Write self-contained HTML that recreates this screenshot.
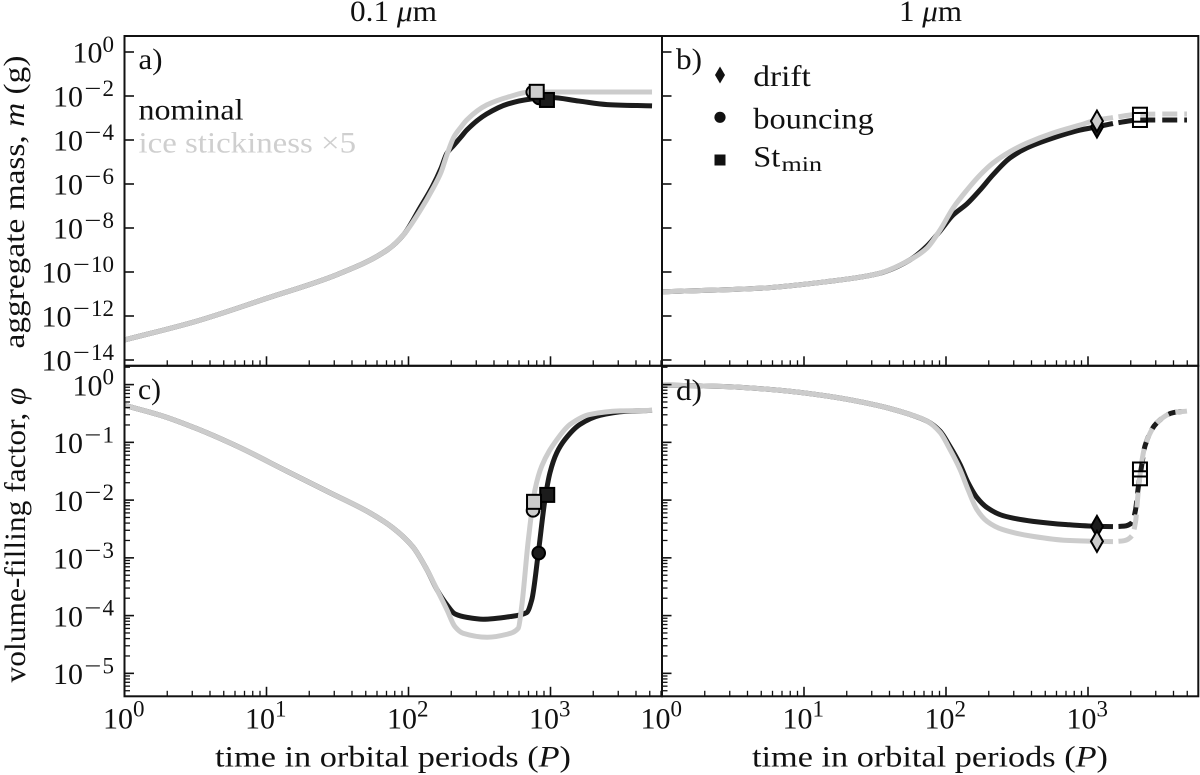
<!DOCTYPE html>
<html lang="en">
<head>
<meta charset="utf-8">
<title>Aggregate mass and volume-filling factor</title>
<style>
html,body{margin:0;padding:0;background:#fff;width:1200px;height:775px;overflow:hidden}
svg{display:block}
text{font-family:"Liberation Serif",serif;font-size:30px;fill:#111}
</style>
</head>
<body>
<svg id="chart" xmlns="http://www.w3.org/2000/svg" width="1200" height="775" viewBox="0 0 1200 775">
<rect x="0" y="0" width="1200" height="775" fill="#fff"/>
<g id="series-layer"></g>
<g id="axis-layer"></g>

<text x="350" y="21" textLength="87" lengthAdjust="spacingAndGlyphs">0.1 <tspan font-style="italic">μ</tspan>m</text>
<text x="899" y="21" textLength="63" lengthAdjust="spacingAndGlyphs">1 <tspan font-style="italic">μ</tspan>m</text>

<text x="24" y="202" text-anchor="middle" transform="rotate(-90 24 202)" textLength="293" lengthAdjust="spacingAndGlyphs">aggregate mass, <tspan font-style="italic">m</tspan> (g)</text>
<text x="25" y="535" text-anchor="middle" transform="rotate(-90 25 535)" textLength="295" lengthAdjust="spacingAndGlyphs">volume-filling factor, <tspan font-style="italic">φ</tspan></text>
<text x="393" y="766.5" text-anchor="middle" textLength="356" lengthAdjust="spacingAndGlyphs">time in orbital periods (<tspan font-style="italic">P</tspan>)</text>
<text x="930" y="766.5" text-anchor="middle" textLength="356" lengthAdjust="spacingAndGlyphs">time in orbital periods (<tspan font-style="italic">P</tspan>)</text>

<text x="138.5" y="69" textLength="24" lengthAdjust="spacingAndGlyphs">a)</text>
<text x="676" y="69" textLength="26" lengthAdjust="spacingAndGlyphs">b)</text>
<text x="138" y="399" textLength="23" lengthAdjust="spacingAndGlyphs">c)</text>
<text x="676" y="400" textLength="26" lengthAdjust="spacingAndGlyphs">d)</text>

<text x="138.5" y="119.3" textLength="105" lengthAdjust="spacingAndGlyphs">nominal</text>
<text x="138.5" y="152.7" textLength="217.5" lengthAdjust="spacingAndGlyphs" style="fill:#cfcfcf">ice stickiness ×5</text>

<g>
<polygon points="720,66.5 725,75 720,83.5 715,75" fill="#111"/>
<circle cx="720" cy="117.3" r="5.6" fill="#111"/>
<rect x="714.5" y="154.5" width="11" height="11" fill="#111"/>
<text x="753.3" y="86" textLength="57.5" lengthAdjust="spacingAndGlyphs">drift</text>
<text x="753.3" y="128.3" textLength="120.5" lengthAdjust="spacingAndGlyphs">bouncing</text>
<text x="753.3" y="166.7" textLength="27" lengthAdjust="spacingAndGlyphs">St</text>
<text x="781.5" y="171" textLength="40.5" lengthAdjust="spacingAndGlyphs" style="font-size:21px">min</text>
</g>
</svg>

<script>
// Tick labels (log10 exponents)
const xTickExponents = [0, 1, 2, 3];
const massTickExponents = [0, -2, -4, -6, -8, -10, -12, -14];
const phiTickExponents = [0, -1, -2, -3, -4, -5];
const minorMultipliers = [2, 3, 4, 5, 6, 7, 8, 9];

// Panel a: log10 time, log10 mass
const aTime = [0, 0.5, 1, 1.5, 1.85, 1.97, 2.08, 2.17, 2.23, 2.27, 2.32, 2.37, 2.41, 2.55, 2.7, 2.857, 3, 3.2, 3.4, 3.715];
const aNominal = [-13.09, -12.25, -11.2, -10.11, -9, -8.27, -7.09, -6.09, -5.27, -4.61, -4.23, -3.86, -3.55, -2.82, -2.36, -2.14, -2.07, -2.23, -2.39, -2.45];
const aIce = [-13.09, -12.25, -11.2, -10.11, -9, -8.27, -7.23, -6.23, -5.45, -4.68, -3.86, -3.41, -3.09, -2.41, -2.05, -1.82, -1.82, -1.82, -1.82, -1.82];

// Panel b: log10 time, log10 mass
const bTime = [0, 0.69, 1.16, 1.514, 1.746, 1.866, 1.958, 2.05, 2.148, 2.24, 2.33, 2.45, 2.57, 2.754, 2.944, 3.063, 3.176, 3.366, 3.556, 3.697];
const bNominal = [-10.9, -10.74, -10.44, -10.09, -9.45, -8.82, -8.14, -7.41, -6.9, -6.27, -5.59, -4.82, -4.36, -3.91, -3.55, -3.4, -3.25, -3.09, -3.09, -3.09];
const bIce = [-10.9, -10.74, -10.44, -10.09, -9.45, -8.91, -8.09, -7.09, -6.27, -5.59, -5.05, -4.53, -4.14, -3.68, -3.32, -3.09, -2.98, -2.83, -2.82, -2.82];

// Panel c: log10 time, log10 filling factor
const cTimeNominal = [0, 0.271, 0.511, 0.792, 1.144, 1.426, 1.729, 1.891, 2.032, 2.13, 2.201, 2.271, 2.327, 2.412, 2.525, 2.715, 2.832, 2.868, 2.914, 2.961, 2.996, 3.044, 3.102, 3.208, 3.349, 3.525, 3.715];
const cNominal = [-0.359, -0.545, -0.764, -1.066, -1.5, -1.847, -2.222, -2.483, -2.813, -3.207, -3.554, -3.814, -3.97, -4.031, -4.063, -4.017, -3.948, -3.728, -2.917, -1.991, -1.528, -1.181, -0.95, -0.689, -0.533, -0.464, -0.446];
const cTimeIce = [0, 0.271, 0.511, 0.792, 1.144, 1.426, 1.729, 1.891, 2.032, 2.13, 2.201, 2.271, 2.327, 2.384, 2.553, 2.694, 2.773, 2.797, 2.844, 2.891, 2.938, 3.046, 3.138, 3.278, 3.489, 3.715];
const cIce = [-0.359, -0.545, -0.764, -1.066, -1.5, -1.847, -2.222, -2.483, -2.813, -3.207, -3.554, -3.901, -4.191, -4.306, -4.375, -4.323, -4.219, -3.844, -2.686, -1.818, -1.413, -0.95, -0.689, -0.516, -0.455, -0.446];

// Panel d: log10 time, log10 filling factor
const dTime = [0, 0.458, 0.81, 1.162, 1.514, 1.746, 1.866, 1.958, 2.028, 2.099, 2.155, 2.218, 2.289, 2.401, 2.613, 2.852, 3.063, 3.176, 3.254, 3.31, 3.335, 3.352, 3.378, 3.401, 3.486, 3.599, 3.697];
const dNominal = [-0.007, -0.035, -0.094, -0.198, -0.359, -0.516, -0.632, -0.806, -1.071, -1.384, -1.696, -1.957, -2.13, -2.269, -2.368, -2.425, -2.455, -2.46, -2.451, -2.391, -2.165, -1.818, -1.401, -1.066, -0.66, -0.486, -0.458];
const dIce = [-0.007, -0.035, -0.094, -0.198, -0.359, -0.516, -0.632, -0.828, -1.123, -1.47, -1.818, -2.165, -2.368, -2.512, -2.628, -2.698, -2.715, -2.72, -2.703, -2.616, -2.373, -1.905, -1.349, -1.066, -0.66, -0.486, -0.458];

// Where the curves in panels b and d turn dashed (log10 time)
const dashStartTime = 3.176;

// Event markers: [log10 time, log10 value]
const aMarkers = [
  ['circle', 'nominal', 2.92, -2.09], ['square', 'nominal', 2.975, -2.18],
  ['circle', 'ice', 2.875, -1.82], ['square', 'ice', 2.903, -1.81]
];
const bMarkers = [
  ['diamond', 'nominal', 3.063, -3.41], ['square', 'nominal', 3.366, -3.09],
  ['diamond', 'ice', 3.063, -3.14], ['square', 'ice', 3.366, -2.85]
];
const cMarkers = [
  ['circle', 'nominal', 2.917, -2.917], ['square', 'nominal', 2.977, -1.91],
  ['circle', 'ice', 2.877, -2.177], ['square', 'ice', 2.884, -2.03]
];
const dMarkers = [
  ['diamond', 'nominal', 3.063, -2.455], ['square', 'nominal', 3.366, -1.622],
  ['diamond', 'ice', 3.063, -2.715], ['square', 'ice', 3.366, -1.47]
];

const SVGNS = 'http://www.w3.org/2000/svg';
const seriesLayer = document.getElementById('series-layer');
const axisLayer = document.getElementById('axis-layer');
const INK = '#111';
const COLORS = { nominal: '#1c1c1c', ice: '#cccccc' };

function mk(tag, parent, name, interactable) {
  const el = document.createElementNS(SVGNS, tag);
  
  
  parent.appendChild(el);
  return el;
}

function monotonePath(px, py) {
  const n = px.length;
  const s = [], t = [];
  for (let i = 0; i < n - 1; i++) s.push((py[i + 1] - py[i]) / (px[i + 1] - px[i]));
  t[0] = s[0];
  t[n - 1] = s[n - 2];
  for (let i = 1; i < n - 1; i++) {
    if (s[i - 1] * s[i] <= 0) { t[i] = 0; continue; }
    const h0 = px[i] - px[i - 1], h1 = px[i + 1] - px[i];
    const w1 = 2 * h1 + h0, w2 = h1 + 2 * h0;
    t[i] = (w1 + w2) / (w1 / s[i - 1] + w2 / s[i]);
  }
  let d = 'M' + px[0].toFixed(2) + ' ' + py[0].toFixed(2);
  for (let i = 0; i < n - 1; i++) {
    const h = (px[i + 1] - px[i]) / 3;
    d += 'C' + (px[i] + h).toFixed(2) + ' ' + (py[i] + t[i] * h).toFixed(2) + ' ' +
      (px[i + 1] - h).toFixed(2) + ' ' + (py[i + 1] - t[i + 1] * h).toFixed(2) + ' ' +
      px[i + 1].toFixed(2) + ' ' + py[i + 1].toFixed(2);
  }
  return d;
}

function drawSeries(panel, kind, times, values, dashFrom) {
  const px = times.map(panel.x);
  const py = values.map(panel.y);
  const base = panel.name + '-' + kind + '-curve';
  function stroke(el) {
    el.setAttribute('fill', 'none');
    el.setAttribute('stroke', COLORS[kind]);
    el.setAttribute('stroke-width', '5');
  }
  if (dashFrom === null) {
    const line = mk('path', seriesLayer, base, false);
    line.setAttribute('d', monotonePath(px, py));
    stroke(line);
    return;
  }
  const k = times.findIndex(function (v) { return v >= dashFrom; });
  const solid = mk('path', seriesLayer, base, false);
  solid.setAttribute('d', monotonePath(px.slice(0, k + 1), py.slice(0, k + 1)));
  stroke(solid);
  const dashed = mk('path', seriesLayer, base + '-dashed', false);
  dashed.setAttribute('d', monotonePath(px.slice(k), py.slice(k)));
  stroke(dashed);
  dashed.setAttribute('stroke-dasharray', '15 7');
  dashed.setAttribute('stroke-dashoffset', '16.5');
}

function drawMarker(panel, spec) {
  const shape = spec[0], kind = spec[1];
  const cx = panel.x(spec[2]), cy = panel.y(spec[3]);
  const hollow = panel.hollowSquares && shape === 'square';
  const name = panel.name + '-' + kind + '-' + shape + '-marker';
  let el;
  if (shape === 'circle') {
    el = mk('circle', seriesLayer, name, false);
    el.setAttribute('cx', cx);
    el.setAttribute('cy', cy);
    el.setAttribute('r', '6.3');
  } else if (shape === 'square') {
    el = mk('rect', seriesLayer, name, false);
    el.setAttribute('x', cx - 7);
    el.setAttribute('y', cy - 7);
    el.setAttribute('width', '14');
    el.setAttribute('height', '14');
  } else {
    el = mk('polygon', seriesLayer, name, false);
    el.setAttribute('points', cx + ',' + (cy - 10.5) + ' ' + (cx + 6) + ',' + cy + ' ' + cx + ',' + (cy + 10.5) + ' ' + (cx - 6) + ',' + cy);
  }
  el.setAttribute('fill', hollow ? 'none' : COLORS[kind]);
  el.setAttribute('stroke', '#000');
  el.setAttribute('stroke-width', '2');
}

function line(parent, name, x1, y1, x2, y2, w) {
  const el = mk('line', parent, name, false);
  el.setAttribute('x1', x1);
  el.setAttribute('y1', y1);
  el.setAttribute('x2', x2);
  el.setAttribute('y2', y2);
  el.setAttribute('stroke', INK);
  el.setAttribute('stroke-width', w);
}

function powerLabel(parent, name, exponent, baseRight, baseline, supLift) {
  const group = mk('g', parent, name, false);
  const base = mk('text', group, name + '-base', false);
  base.textContent = '10';
  base.setAttribute('text-anchor', 'end');
  base.setAttribute('x', baseRight);
  base.setAttribute('y', baseline);
  let cursor = baseRight;
  if (exponent < 0) {
    const minus = mk('text', group, name + '-minus', false);
    minus.textContent = '\u2212';
    minus.setAttribute('x', cursor + 1.5);
    minus.setAttribute('y', baseline - supLift);
    minus.style.fontSize = '23px';
    minus.setAttribute('textLength', '17');
    minus.setAttribute('lengthAdjust', 'spacingAndGlyphs');
    cursor += 19.5;
  }
  const digit = mk('text', group, name + '-exponent', false);
  digit.textContent = String(Math.abs(exponent));
  digit.setAttribute('x', cursor);
  digit.setAttribute('y', baseline - supLift);
  digit.style.fontSize = '23px';
}

function drawAxes(panel) {
  const g = mk('g', axisLayer, panel.name + '-axes', false);
  // x ticks
  const yBase = panel.bottom;
  xTickExponents.forEach(function (e) {
    const px = panel.x(e);
    line(g, panel.name + '-x-tick-major', px, yBase, px, yBase - 9.5, 1.6);
    minorMultipliers.forEach(function (m) {
      const v = e + Math.log10(m);
      const mx = panel.x(v);
      if (mx < panel.right - 1) line(g, panel.name + '-x-tick-minor', mx, yBase, mx, yBase - 5.5, 1.3);
    });
    if (panel.xLabels) {
      powerLabel(g, panel.name + '-x-tick-label', e, px + 8.5, 728.3, 11.6);
    }
  });
  // y ticks
  panel.yTicks.forEach(function (e) {
    const py = panel.y(e);
    line(g, panel.name + '-y-tick-major', panel.left, py, panel.left + 9.5, py, 1.6);
    if (panel.yMinor) {
      minorMultipliers.forEach(function (m) {
        const v = e + Math.log10(m);
        const my = panel.y(v);
        if (my > panel.top + 1) line(g, panel.name + '-y-tick-minor', panel.left, my, panel.left + 5.5, my, 1.3);
        const lower = panel.y(e - 1 + Math.log10(m));
        if (e === panel.yTicks[panel.yTicks.length - 1] && lower < panel.bottom - 0.5) {
          line(g, panel.name + '-y-tick-minor', panel.left, lower, panel.left + 5.5, lower, 1.3);
        }
      });
    }
    if (panel.yLabels) {
      const digits = String(Math.abs(e)).length;
      const right = 114 - digits * 11.5 - (e < 0 ? 19.5 : 0);
      powerLabel(g, panel.name + '-y-tick-label', e, right, py + 10.7, 10.7);
    }
  });
  // frame
  const frame = mk('rect', g, panel.name + '-frame', false);
  frame.setAttribute('x', panel.left);
  frame.setAttribute('y', panel.top);
  frame.setAttribute('width', panel.right - panel.left);
  frame.setAttribute('height', panel.bottom - panel.top);
  frame.setAttribute('fill', 'none');
  frame.setAttribute('stroke', INK);
  frame.setAttribute('stroke-width', '2');
}

const xLeft = function (v) { return 124.5 + 142 * v; };
const xRight = function (v) { return 662 + 142 * v; };
const yMass = function (v) { return 52 - 22 * v; };
const yPhi = function (v) { return 384.6 - 57.75 * v; };

const panels = [
  { name: 'panel-a', x: xLeft, y: yMass, left: 124.5, right: 662, top: 36, bottom: 365.8, yTicks: massTickExponents, yMinor: false, yLabels: true, xLabels: false, hollowSquares: false,
    nomT: aTime, nom: aNominal, iceT: aTime, ice: aIce, markers: aMarkers, dash: null },
  { name: 'panel-b', x: xRight, y: yMass, left: 662, right: 1198.3, top: 36, bottom: 365.8, yTicks: massTickExponents, yMinor: false, yLabels: false, xLabels: false, hollowSquares: true,
    nomT: bTime, nom: bNominal, iceT: bTime, ice: bIce, markers: bMarkers, dash: dashStartTime },
  { name: 'panel-c', x: xLeft, y: yPhi, left: 124.5, right: 662, top: 365.8, bottom: 696.3, yTicks: phiTickExponents, yMinor: true, yLabels: true, xLabels: true, hollowSquares: false,
    nomT: cTimeNominal, nom: cNominal, iceT: cTimeIce, ice: cIce, markers: cMarkers, dash: null },
  { name: 'panel-d', x: xRight, y: yPhi, left: 662, right: 1198.3, top: 365.8, bottom: 696.3, yTicks: phiTickExponents, yMinor: true, yLabels: false, xLabels: true, hollowSquares: true,
    nomT: dTime, nom: dNominal, iceT: dTime, ice: dIce, markers: dMarkers, dash: dashStartTime }
];

panels.forEach(function (p) {
  drawSeries(p, 'nominal', p.nomT, p.nom, p.dash);
  drawSeries(p, 'ice', p.iceT, p.ice, p.dash);
  p.markers.forEach(function (m) { drawMarker(p, m); });
  drawAxes(p);
});
</script>
</body>
</html>
